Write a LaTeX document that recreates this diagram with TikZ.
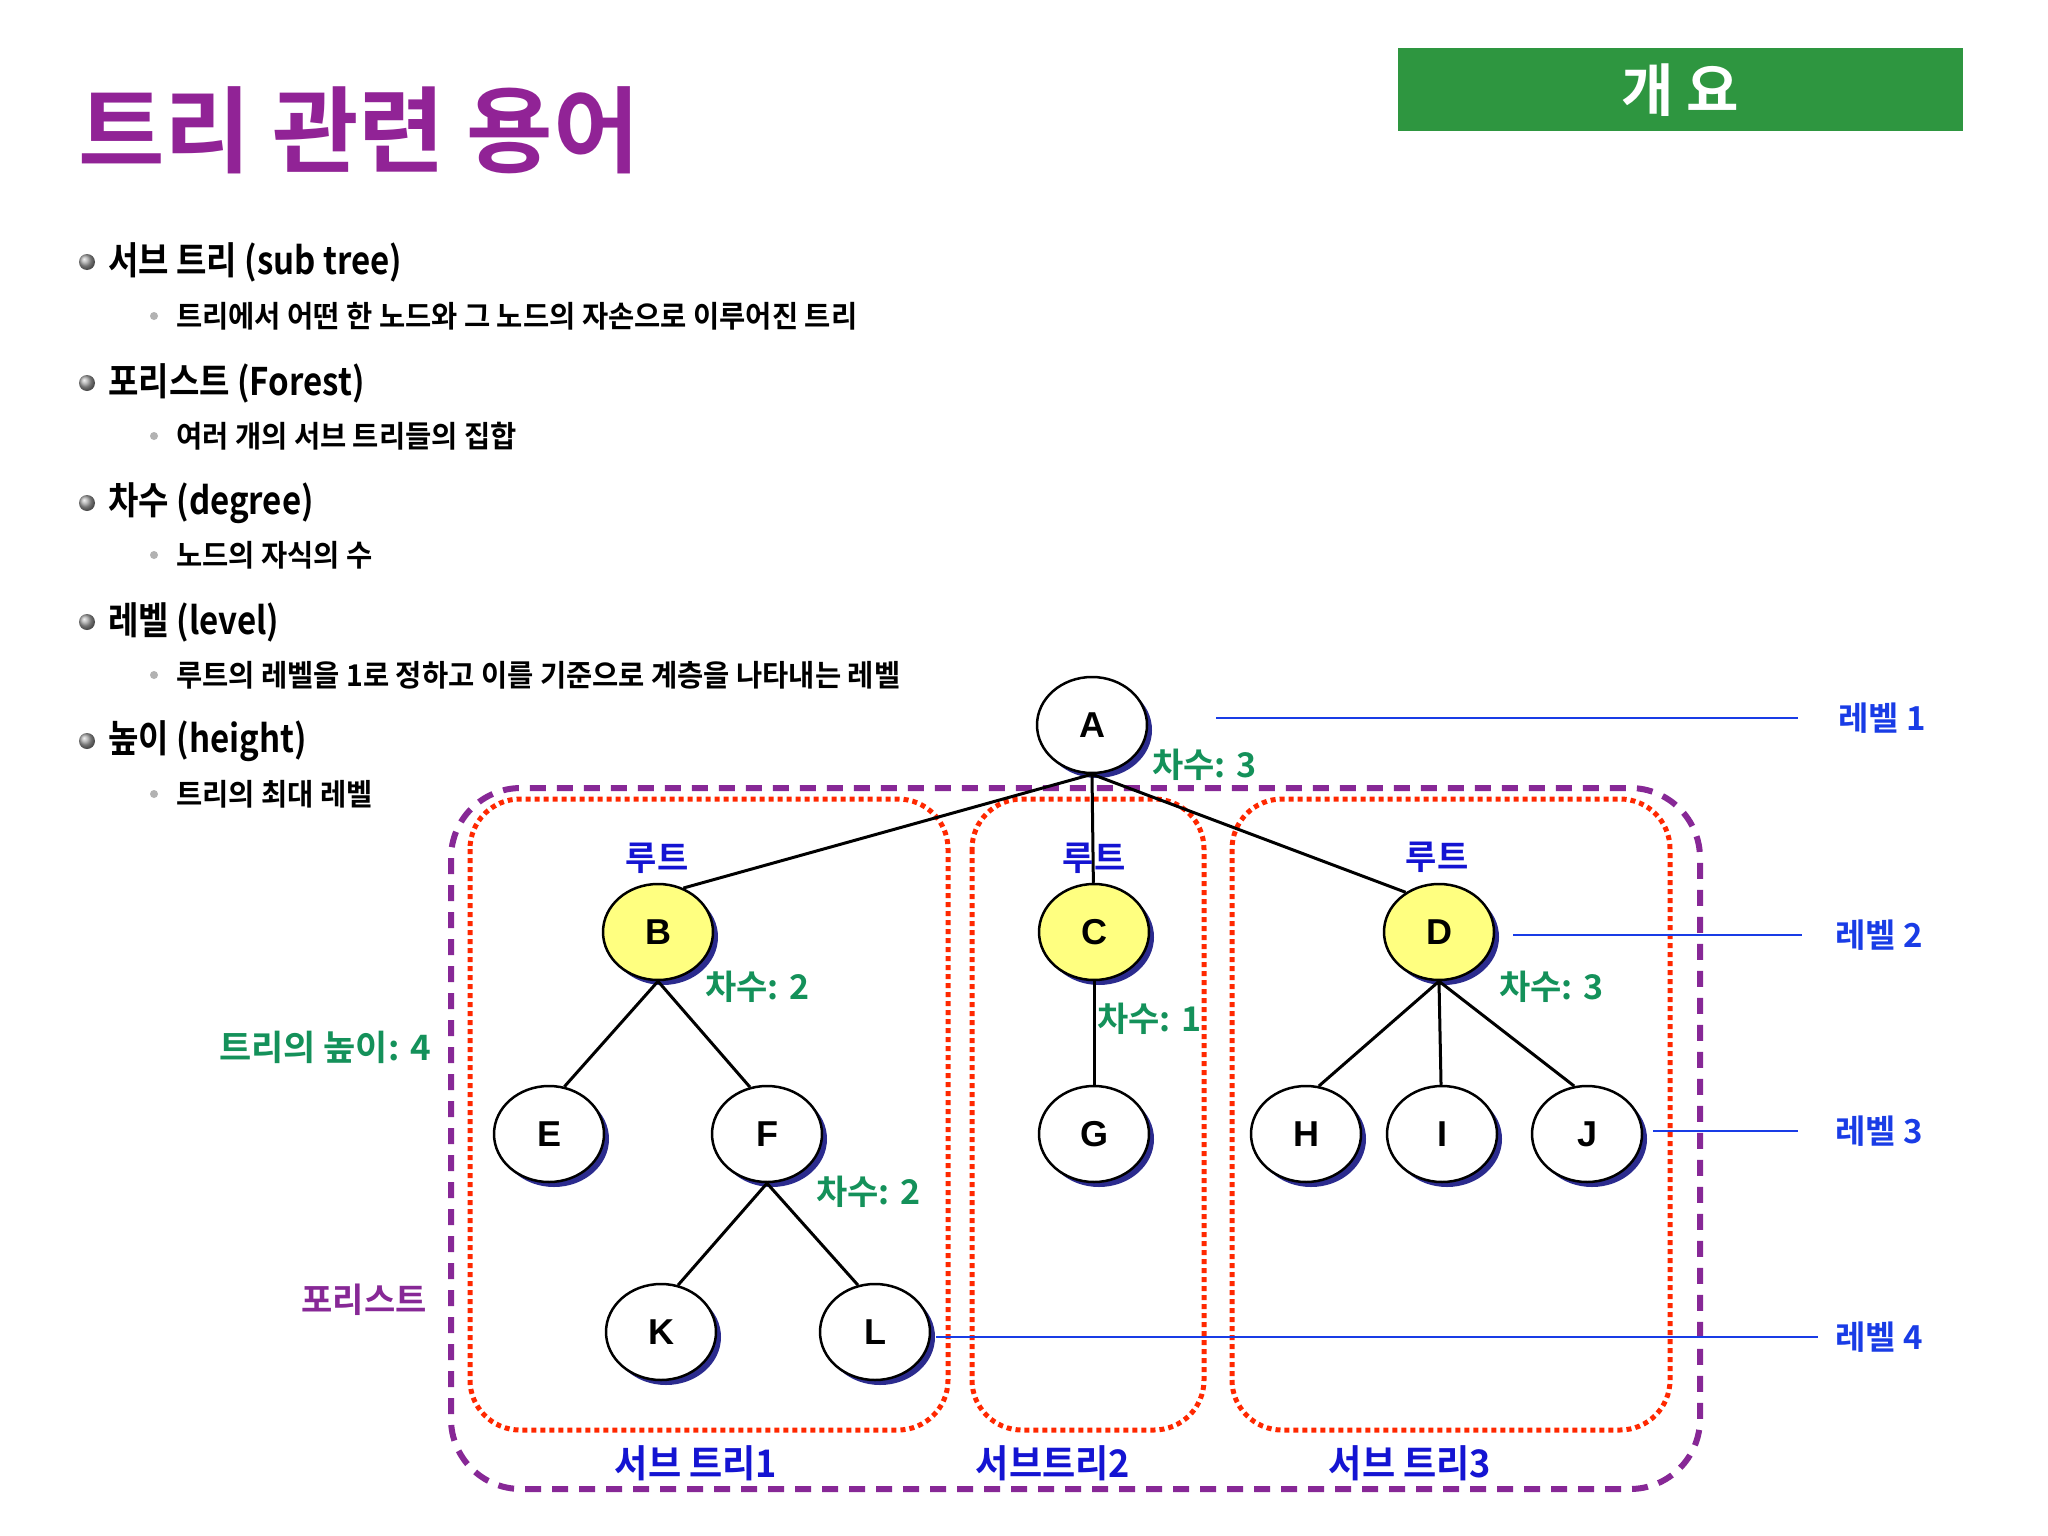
\documentclass[tikz,border=0pt]{standalone}
\usepackage{fontspec}
\setmainfont{Noto Sans CJK KR}[UprightFont=* Bold]
\newfontfamily\bodyfont{Noto Sans CJK KR}[UprightFont=* Bold, FakeStretch=0.87]
\newfontfamily\smallfont{Noto Sans CJK KR}[UprightFont=* Bold, FakeStretch=0.95]
\newfontfamily\letterfont{Liberation Sans}[UprightFont=* Bold]
\usetikzlibrary{shapes.geometric,shadows}

\newcommand{\fsize}[1]{\fontsize{#1}{#1}\selectfont}

\definecolor{titlepurple}{RGB}{145,35,150}
\definecolor{badgegreen}{RGB}{46,150,64}
\definecolor{degreegreen}{RGB}{20,145,90}
\definecolor{rootblue}{RGB}{20,20,210}
\definecolor{levelblue}{RGB}{25,60,230}
\definecolor{forestpurple}{RGB}{135,40,150}
\definecolor{subred}{RGB}{255,40,0}
\definecolor{rootyellow}{RGB}{255,255,128}
\definecolor{shadowblue}{RGB}{20,20,130}

\tikzset{
  tnode/.style={ellipse, draw, line width=2.5pt, minimum width=110pt, minimum height=96pt,
    inner sep=0pt, fill=white, font=\letterfont\fsize{36},
    drop shadow={shadow xshift=5pt, shadow yshift=-5pt, fill=shadowblue, opacity=0.9}},
  rootnode/.style={tnode, fill=rootyellow},
  treeline/.style={line width=3pt},
  degreelabel/.style={anchor=west, inner sep=0pt, text=degreegreen, font=\fsize{34}},
  rootlabel/.style={inner sep=0pt, text=rootblue, font=\fsize{34}},
  levellabel/.style={anchor=west, inner sep=0pt, text=levelblue, font=\fsize{33}},
  levelline/.style={levelblue, line width=1.5pt},
  subbox/.style={subred, line width=5pt, dash pattern=on 5pt off 4pt, rounded corners=50pt},
  forestbox/.style={forestpurple, line width=6pt, dash pattern=on 16pt off 11pt, rounded corners=70pt},
  subtreelabel/.style={inner sep=0pt, text=rootblue, font=\smallfont\fsize{38}},
  bigitem/.style={anchor=west, inner sep=0pt, font=\bodyfont\fsize{38}},
  smallitem/.style={anchor=west, inner sep=0pt, font=\smallfont\fsize{30}}
}

\begin{document}
\begin{tikzpicture}[x=1pt,y=-1pt]

  \fill[white] (0,0) rectangle (2048,1536);
  \useasboundingbox (0,0) rectangle (2048,1536);

  % 제목
  \node[anchor=west, inner sep=0pt, text=titlepurple, font=\fsize{94}] (title) at (78,130) {트리 관련 용어};
  \node[fill=badgegreen, minimum width=565pt, minimum height=83pt, text=white, font=\fsize{57}] (badge) at (1680,90) {개 요};

  % 항목
  \foreach \y in {262,383,503,622,741} {
    \shade[ball color=gray!70] (87,\y) circle (8pt);
  }
  \foreach \y in {316,436,555,675,794} {
    \fill[gray!60] (154,\y) circle (4pt);
  }
  \node[bigitem] (subtree) at (108,262) {서브 트리 (sub tree)};
  \node[smallitem] (subtreedef) at (176,316) {트리에서 어떤 한 노드와 그 노드의 자손으로 이루어진 트리};
  \node[bigitem] (forest) at (108,383) {포리스트 (Forest)};
  \node[smallitem] (forestdef) at (176,436) {여러 개의 서브 트리들의 집합};
  \node[bigitem] (degree) at (108,503) {차수 (degree)};
  \node[smallitem] (degreedef) at (176,555) {노드의 자식의 수};
  \node[bigitem] (level) at (108,622) {레벨 (level)};
  \node[smallitem] (leveldef) at (176,675) {루트의 레벨을 1로 정하고 이를 기준으로 계층을 나타내는 레벨};
  \node[bigitem] (height) at (108,741) {높이 (height)};
  \node[smallitem] (heightdef) at (176,794) {트리의 최대 레벨};

  % 포리스트, 서브 트리
  \draw[forestbox] (451,788) rectangle (1700,1489);
  \draw[subbox] (470,799) rectangle (948,1430);
  \draw[subbox] (972,799) rectangle (1204,1430);
  \draw[subbox] (1232,799) rectangle (1670,1430);

  % 노드
  \node[tnode] (A) at (1092,725) {A};
  \node[rootnode] (B) at (658,932) {B};
  \node[rootnode] (C) at (1094,932) {C};
  \node[rootnode] (D) at (1439,932) {D};
  \node[tnode] (E) at (549,1134) {E};
  \node[tnode] (F) at (767,1134) {F};
  \node[tnode] (G) at (1094,1134) {G};
  \node[tnode] (H) at (1306,1134) {H};
  \node[tnode] (I) at (1442,1134) {I};
  \node[tnode] (J) at (1587,1134) {J};
  \node[tnode] (K) at (661,1332) {K};
  \node[tnode] (L) at (875,1332) {L};

  % 간선
  \draw[treeline] (A.south) -- (B.60) (A.south) -- (C) (A.south) -- (D.130);
  \draw[treeline] (B.south) -- (E.72) (B.south) -- (F.110);
  \draw[treeline] (C.south) -- (G);
  \draw[treeline] (D.south) -- (H.75) (D.south) -- (I) (D.south) -- (J.105);
  \draw[treeline] (F.south) -- (K.70) (F.south) -- (L.110);

  % 표시
  \node[degreelabel] (degA) at (1152,765) {차수: 3};
  \node[degreelabel] (degB) at (705,987) {차수: 2};
  \node[degreelabel] (degC) at (1097,1019) {차수: 1};
  \node[degreelabel] (degD) at (1499,987) {차수: 3};
  \node[degreelabel] (degF) at (816,1192) {차수: 2};
  \node[rootlabel] (rootB) at (657,858) {루트};
  \node[rootlabel] (rootC) at (1094,858) {루트};
  \node[rootlabel] (rootD) at (1437,857) {루트};
  \node[anchor=east, inner sep=0pt, text=degreegreen, font=\fsize{35}] (treeheight) at (431,1047) {트리의 높이: 4};
  \node[anchor=east, inner sep=0pt, text=forestpurple, font=\fsize{34}] (forestlabel) at (427,1300) {포리스트};
  \node[subtreelabel] (st1) at (696,1463) {서브 트리1};
  \node[subtreelabel] (st2) at (1053,1463) {서브트리2};
  \node[subtreelabel] (st3) at (1410,1463) {서브 트리3};

  % 레벨
  \node[levellabel] (lv1) at (1838,718) {레벨 1};
  \node[levellabel] (lv2) at (1835,935) {레벨 2};
  \node[levellabel] (lv3) at (1835,1131) {레벨 3};
  \node[levellabel] (lv4) at (1835,1337) {레벨 4};
  \draw[levelline] ([xshift=68pt]A.east |- lv1.west) -- ([xshift=-40pt]lv1.west);
  \draw[levelline] ([xshift=18pt]D.east |- lv2.west) -- ([xshift=-33pt]lv2.west);
  \draw[levelline] ([xshift=10pt]J.east |- lv3.west) -- ([xshift=-37pt]lv3.west);
  \draw[levelline] ([xshift=5pt]L.east |- lv4.west) -- ([xshift=-17pt]lv4.west);
\end{tikzpicture}
\end{document}
